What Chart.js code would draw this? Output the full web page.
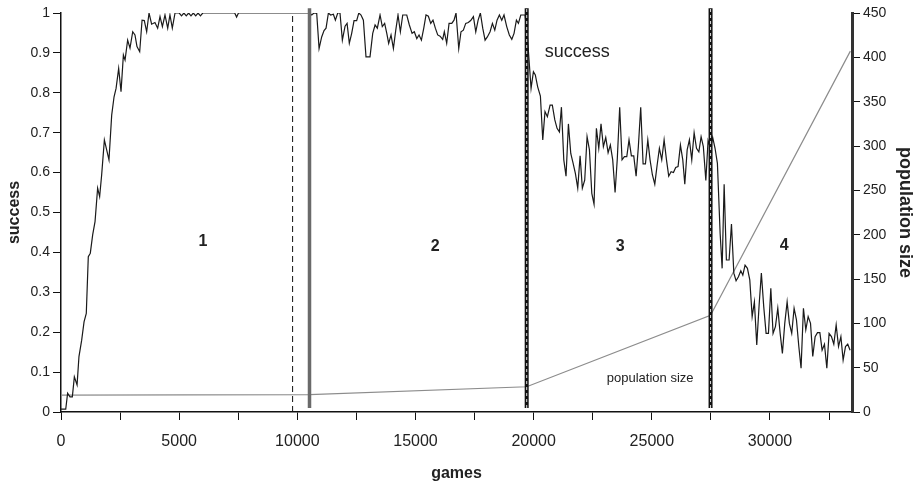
<!DOCTYPE html>
<html>
<head>
<meta charset="utf-8">
<script src="https://cdn.jsdelivr.net/npm/chart.js@4.4.0/dist/chart.umd.min.js"></script>
<style>
  html, body { margin: 0; padding: 0; background: #fff; }
  canvas { display: block; }
</style>
</head>
<body>
<canvas id="plot-success" width="920" height="488"></canvas>
<script>
// success curve (games, success)
const successGames = [
  0, 200, 280, 380, 480, 565, 680, 760, 875, 975, 1070, 1155, 1240, 1340, 1440, 1550, 1635, 1720, 1835, 2030,
  2145, 2245, 2330, 2440, 2540, 2640, 2710, 2820, 2920, 3035, 3130, 3215, 3330, 3430, 3525, 3625, 3725, 3835, 3975, 4090,
  4190, 4290, 4400, 4515, 4610, 4710, 4825, 5000, 5100, 5200, 5300, 5400, 5500, 5600, 5700, 5800, 5900, 6000, 7350, 7430,
  7510, 10520, 10610, 10705, 10820,
  10920, 11030, 11130, 11215, 11315, 11410, 11525, 11610, 11710, 11805, 11905, 12020, 12105, 12200, 12300, 12400, 12510, 12600, 12695, 12795,
  12905, 13075, 13190, 13290, 13385, 13500, 13595, 13695, 13785, 13865, 13965, 14065, 14165, 14260, 14360, 14460, 14630, 14740, 14855, 14950,
  15055, 15150, 15250, 15350, 15445, 15545, 15645, 15740, 15840, 15940, 16040, 16150, 16220, 16320, 16420, 16535, 16630, 16715, 16830, 16925,
  17025, 17125, 17235, 17335, 17450, 17550, 17650, 17745, 17845, 17945, 18040, 18155, 18255, 18355, 18450, 18550, 18650, 18745, 18860, 18970,
  19075, 19170, 19270, 19355, 19455, 19635,
  19735, 19890, 19990, 20070, 20170, 20285, 20385, 20480, 20580, 20695, 20790, 20895, 20990, 21090, 21175, 21275, 21370, 21470, 21570, 21670,
  21765, 21865, 21965, 22060, 22160, 22260, 22360, 22460, 22555, 22655, 22755, 22850, 22950, 23050, 23150, 23245, 23345, 23445, 23540, 23640,
  23740, 23840, 23940, 24035, 24135, 24235, 24335, 24430, 24530, 24630, 24730, 24830, 24925, 25025, 25125, 25225, 25320, 25420, 25520, 25620,
  25715, 25815, 25915, 26010, 26110, 26210, 26310, 26395, 26495, 26590, 26690, 26790, 26890, 26990, 27085, 27180, 27285, 27380, 27480, 27575,
  27675, 27775,
  27890, 27975, 28060, 28155, 28270, 28370, 28470, 28565, 28665, 28765, 28850, 28945, 29045, 29145, 29245, 29340, 29440, 29540, 29635, 29735,
  29835, 29935, 30035, 30130, 30230, 30330, 30430, 30525, 30625, 30725, 30820, 30920, 31020, 31120, 31220, 31315, 31415, 31515, 31615, 31715,
  31810, 31910, 32010, 32110, 32205, 32305, 32405, 32500, 32600, 32700, 32800, 32900, 33000, 33095, 33195, 33290, 33390
];
const successValues = [
  0.007, 0.007, 0.047, 0.038, 0.038, 0.088, 0.068, 0.139, 0.18, 0.226, 0.247, 0.389, 0.398, 0.444, 0.477, 0.561, 0.54, 0.594, 0.682, 0.632,
  0.744, 0.79, 0.811, 0.861, 0.803, 0.895, 0.882, 0.932, 0.912, 0.953, 0.945, 0.916, 0.903, 0.982, 0.981, 0.953, 1, 0.972, 0.976, 0.962,
  0.991, 0.966, 0.995, 0.962, 0.995, 0.962, 1, 1, 0.993, 1, 0.993, 1, 0.993, 1, 0.993, 1, 0.993, 1, 1, 0.99,
  1, 1, 0.995, 1, 0.999,
  0.911, 0.94, 0.956, 0.962, 1, 0.995, 0.997, 0.982, 1, 1, 0.932, 0.967, 0.974, 0.924, 0.949, 0.981, 0.981, 1, 0.995, 0.982,
  0.89, 0.89, 0.949, 0.97, 0.962, 0.995, 0.966, 0.974, 0.949, 0.924, 0.945, 0.911, 0.957, 0.995, 0.953, 0.995, 0.995, 0.97, 0.949, 0.953,
  0.936, 0.945, 0.932, 0.962, 0.995, 0.992, 0.974, 0.982, 0.962, 0.945, 0.942, 0.934, 0.953, 0.924, 0.974, 0.974, 0.982, 1, 0.911, 0.953,
  0.957, 0.974, 0.976, 0.981, 0.991, 0.953, 0.982, 1, 0.962, 0.932, 0.94, 0.953, 0.974, 0.957, 0.982, 0.995, 0.982, 0.995, 0.966, 0.945,
  0.934, 0.949, 0.982, 0.974, 0.995, 0.995,
  0.94, 0.811, 0.853, 0.845, 0.815, 0.792, 0.682, 0.753, 0.74, 0.769, 0.769, 0.732, 0.711, 0.702, 0.764, 0.632, 0.591, 0.722, 0.648, 0.623,
  0.598, 0.561, 0.642, 0.561, 0.581, 0.69, 0.657, 0.548, 0.521, 0.711, 0.661, 0.722, 0.665, 0.688, 0.65, 0.669, 0.632, 0.55, 0.636, 0.764,
  0.632, 0.64, 0.64, 0.682, 0.642, 0.642, 0.591, 0.665, 0.764, 0.622, 0.622, 0.682, 0.632, 0.594, 0.571, 0.619, 0.661, 0.632, 0.682, 0.632,
  0.591, 0.602, 0.6, 0.613, 0.615, 0.669, 0.632, 0.571, 0.657, 0.682, 0.632, 0.7, 0.661, 0.652, 0.69, 0.665, 0.58, 0.68, 0.661, 0.688,
  0.661, 0.623,
  0.448, 0.36, 0.571, 0.381, 0.381, 0.471, 0.348, 0.329, 0.339, 0.354, 0.343, 0.368, 0.36, 0.331, 0.239, 0.276, 0.168, 0.268, 0.348, 0.264,
  0.197, 0.197, 0.31, 0.197, 0.214, 0.26, 0.197, 0.147, 0.222, 0.276, 0.222, 0.197, 0.26, 0.231, 0.164, 0.11, 0.26, 0.206, 0.239, 0.222,
  0.139, 0.189, 0.199, 0.199, 0.155, 0.17, 0.11, 0.197, 0.189, 0.17, 0.218, 0.164, 0.189, 0.13, 0.164, 0.17, 0.155
];

// population size (right axis)
const popGames = [0, 10515, 19705, 27485, 33400];
const popValues = [19, 19.5, 28.5, 109, 407];

// phase boundaries
const phaseGames = [10515, 19705, 27485];
const dashedGame = 9800;

// x axis tick marks, labels only on every 5000
const xTickValues = [0, 2500, 5000, 7500, 10000, 12500, 15000, 17500, 20000, 22500, 25000, 27500, 30000, 32500];
const xTickLabels = ['0', '', '5000', '', '10000', '', '15000', '', '20000', '', '25000', '', '30000', ''];

// text inside the plot
const sectionNames = ['1', '2', '3', '4'];
const sectionGames = [6010, 15830, 23660, 30600];
const sectionValues = [0.426, 0.414, 0.414, 0.416];
const noteTexts = ['success', 'population size'];
const noteGames = [21840, 24930];
const noteValues = [0.902, 0.083];

const xMax = 33470;

function vline(g, bottom, top) {
    return [{ x: g, y: bottom }, { x: g, y: top }];
}

const notesPlugin = {
    id: 'notes',
    afterDatasetsDraw(chart) {
        const c = chart.ctx;
        const xs = chart.scales.x;
        const ys = chart.scales.y;
        c.save();
        c.fillStyle = '#222';
        c.textAlign = 'center';
        c.textBaseline = 'middle';
        c.font = 'bold 16px "Liberation Sans", Arial, sans-serif';
        for (let i = 0; i < sectionNames.length; i++) {
            c.fillText(sectionNames[i], xs.getPixelForValue(sectionGames[i]), ys.getPixelForValue(sectionValues[i]));
        }
        c.font = '18px "Liberation Sans", Arial, sans-serif';
        c.fillText(noteTexts[0], xs.getPixelForValue(noteGames[0]), ys.getPixelForValue(noteValues[0]));
        c.font = '13px "Liberation Sans", Arial, sans-serif';
        c.fillText(noteTexts[1], xs.getPixelForValue(noteGames[1]), ys.getPixelForValue(noteValues[1]));
        c.restore();
    }
};

const tickFont = { family: '"Liberation Sans", Arial, sans-serif', size: 14 };
const titleFont = { family: '"Liberation Sans", Arial, sans-serif', size: 16, weight: 'bold' };

var ctx = document.getElementById('plot-success').getContext('2d');
var graph = new Chart(ctx, {
    type: 'line',
    data: {
        datasets: [{
            // black double lines (phase 2->3, 3->4)
            data: vline(phaseGames[1], 0.01, 1.012),
            borderColor: '#111',
            borderWidth: 4,
            pointRadius: 0,
            clip: false,
            order: 1
        }, {
            data: vline(phaseGames[1], 0.01, 1.012),
            borderColor: '#ddd',
            borderWidth: 1,
            borderDash: [3, 3],
            pointRadius: 0,
            clip: false,
            order: 0
        }, {
            data: vline(phaseGames[2], 0.01, 1.012),
            borderColor: '#111',
            borderWidth: 4,
            pointRadius: 0,
            clip: false,
            order: 1
        }, {
            data: vline(phaseGames[2], 0.01, 1.012),
            borderColor: '#ddd',
            borderWidth: 1,
            borderDash: [3, 3],
            pointRadius: 0,
            clip: false,
            order: 0
        }, {
            // grey bar (phase 1->2)
            data: vline(phaseGames[0], 0.01, 1.012),
            borderColor: '#6a6a6a',
            borderWidth: 3.5,
            pointRadius: 0,
            clip: false,
            order: 1
        }, {
            data: vline(dashedGame, 0, 1),
            borderColor: '#111',
            borderWidth: 1,
            borderDash: [6, 4],
            pointRadius: 0,
            order: 2
        }, {
            label: 'success',
            data: successGames.map((g, i) => ({ x: g, y: successValues[i] })),
            borderColor: '#1a1a1a',
            borderWidth: 1.2,
            pointRadius: 0,
            tension: 0,
            order: 3
        }, {
            label: 'population size',
            data: popGames.map((g, i) => ({ x: g, y: popValues[i] })),
            yAxisID: 'y2',
            borderColor: '#8c8c8c',
            borderWidth: 1.2,
            pointRadius: 0,
            order: 4
        }]
    },
    options: {
        responsive: false,
        animation: false,
        layout: { padding: { top: 13, left: 0, right: 0, bottom: 0 } },
        plugins: {
            legend: false,
            tooltip: { enabled: false }
        },
        scales: {
            x: {
                type: 'linear',
                min: 0,
                max: xMax,
                grid: { drawOnChartArea: false, color: '#111', tickLength: 8 },
                border: { color: '#111', width: 1.5 },
                afterBuildTicks(scale) {
                    scale.ticks = xTickValues.map(v => ({ value: v }));
                },
                ticks: {
                    autoSkip: false,
                    maxRotation: 0,
                    padding: 12,
                    color: '#222',
                    font: { family: '"Liberation Sans", Arial, sans-serif', size: 16 },
                    callback: (v, i) => xTickLabels[i]
                },
                title: { display: true, text: 'games', color: '#222', font: titleFont, padding: 5 },
                afterFit(scale) { scale.height = 76; }
            },
            y: {
                position: 'left',
                min: 0,
                max: 1,
                grid: { drawOnChartArea: false, color: '#111', tickLength: 8 },
                border: { color: '#111', width: 1.5 },
                ticks: {
                    stepSize: 0.1,
                    padding: 3,
                    color: '#222',
                    font: tickFont,
                    callback: v => String(Math.round(v * 10) / 10)
                },
                title: { display: true, text: 'success', color: '#222', font: titleFont, padding: 5 },
                afterFit(scale) { scale.width = 61; }
            },
            y2: {
                position: 'right',
                min: 0,
                max: 450,
                grid: { drawOnChartArea: false, color: '#111', tickLength: 8 },
                border: { color: '#333', width: 3 },
                ticks: {
                    stepSize: 50,
                    padding: 3,
                    color: '#222',
                    font: tickFont
                },
                title: { display: true, text: 'population size', color: '#222', font: { family: '"Liberation Sans", Arial, sans-serif', size: 18, weight: 'bold' }, padding: 4 },
                afterFit(scale) { scale.width = 68; }
            }
        }
    },
    plugins: [notesPlugin]
});
</script>
</body>
</html>
